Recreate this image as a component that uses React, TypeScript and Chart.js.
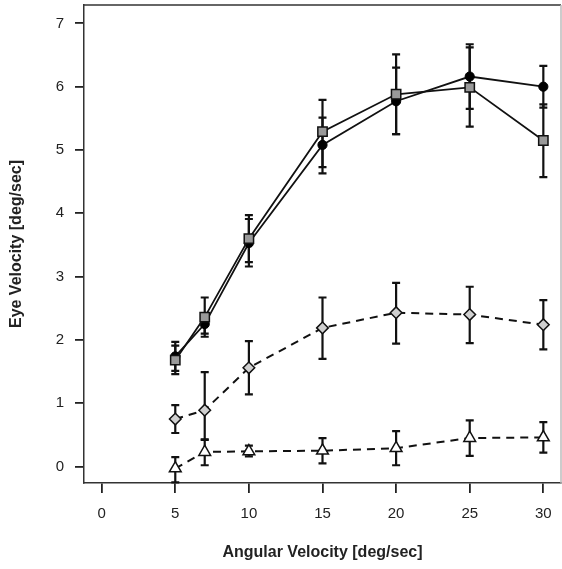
import React, { useEffect, useRef } from "react";
import { Chart, registerables } from "chart.js";

Chart.register(...registerables);

const xValues = [5, 7, 10, 15, 20, 25, 30];

const circleMean = [1.74, 2.25, 3.53, 5.08, 5.77, 6.16, 6.0];
const circleLow = [1.51, 2.1, 3.16, 4.63, 5.25, 5.65, 5.67];
const circleHigh = [1.97, 2.4, 3.91, 5.51, 6.3, 6.67, 6.33];

const squareMean = [1.68, 2.36, 3.6, 5.29, 5.88, 5.99, 5.15];
const squareLow = [1.46, 2.05, 3.23, 4.73, 5.25, 5.37, 4.57];
const squareHigh = [1.91, 2.67, 3.97, 5.79, 6.51, 6.62, 5.72];

const diamondMean = [0.75, 0.89, 1.56, 2.19, 2.43, 2.4, 2.24];
const diamondLow = [0.53, 0.43, 1.14, 1.7, 1.94, 1.95, 1.85];
const diamondHigh = [0.97, 1.49, 1.98, 2.67, 2.9, 2.84, 2.63];

const triMean = [-0.03, 0.23, 0.24, 0.25, 0.29, 0.45, 0.46];
const triLow = [-0.25, 0.02, 0.16, 0.05, 0.02, 0.17, 0.22];
const triHigh = [0.15, 0.42, 0.33, 0.45, 0.56, 0.73, 0.7];

const xTicks = [0, 5, 10, 15, 20, 25, 30];
const yTicks = [0, 1, 2, 3, 4, 5, 6, 7];

const xTitle = "Angular Velocity [deg/sec]";
const yTitle = "Eye Velocity [deg/sec]";

const toPoints = (ys: number[]) => xValues.map((x, i) => ({ x, y: ys[i] }));

const errorBarPlugin = {
  id: "errorBars",
  beforeDatasetsDraw(chart: any) {
    const ctx = chart.ctx;
    const xs = chart.scales.x;
    const ys = chart.scales.y;
    ctx.save();
    ctx.strokeStyle = "#111";
    ctx.lineWidth = 2.2;
    chart.data.datasets.forEach((ds: any) => {
      const lows: number[] = ds.errLow;
      const highs: number[] = ds.errHigh;
      if (!lows) return;
      xValues.forEach((xv, i) => {
        const px = xs.getPixelForValue(xv);
        const pLo = ys.getPixelForValue(lows[i]);
        const pHi = ys.getPixelForValue(highs[i]);
        ctx.beginPath();
        ctx.moveTo(px, pLo);
        ctx.lineTo(px, pHi);
        ctx.moveTo(px - 4, pLo);
        ctx.lineTo(px + 4, pLo);
        ctx.moveTo(px - 4, pHi);
        ctx.lineTo(px + 4, pHi);
        ctx.stroke();
      });
    });
    ctx.restore();
  },
  afterDraw(chart: any) {
    const { left, right, top, bottom } = chart.chartArea;
    const ctx = chart.ctx;
    ctx.save();
    ctx.lineWidth = 1.5;
    ctx.strokeStyle = "#333";
    ctx.beginPath();
    ctx.moveTo(left, top);
    ctx.lineTo(right, top);
    ctx.stroke();
    ctx.strokeStyle = "#bbb";
    ctx.beginPath();
    ctx.moveTo(right, top);
    ctx.lineTo(right, bottom);
    ctx.stroke();
    ctx.restore();
  },
};

export default function App() {
  const ref = useRef<HTMLCanvasElement | null>(null);

  useEffect(() => {
    if (!ref.current) return;
    const tickFont = { family: "'Liberation Sans', Arial, sans-serif", size: 15 };
    const titleFont = { family: "'Liberation Sans', Arial, sans-serif", size: 16, weight: "bold" as const };
    const chart = new Chart(ref.current, {
      type: "line",
      data: {
        datasets: [
          {
            data: toPoints(squareMean),
            errLow: squareLow,
            errHigh: squareHigh,
            borderColor: "#111",
            borderWidth: 1.8,
            pointStyle: "rect",
            pointRadius: 6.6,
            pointBackgroundColor: "#9a9a9a",
            pointBorderColor: "#111",
            pointBorderWidth: 1.5,
            fill: false,
          } as any,
          {
            data: toPoints(circleMean),
            errLow: circleLow,
            errHigh: circleHigh,
            borderColor: "#111",
            borderWidth: 1.8,
            pointStyle: "circle",
            pointRadius: 4.6,
            pointBackgroundColor: "#000",
            pointBorderColor: "#000",
            pointBorderWidth: 1,
            fill: false,
          } as any,
          {
            data: toPoints(diamondMean),
            errLow: diamondLow,
            errHigh: diamondHigh,
            borderColor: "#111",
            borderWidth: 2,
            borderDash: [8, 6],
            pointStyle: "rectRot",
            pointRadius: 5.8,
            pointBackgroundColor: "#d0d0d0",
            pointBorderColor: "#111",
            pointBorderWidth: 1.5,
            fill: false,
          } as any,
          {
            data: toPoints(triMean),
            errLow: triLow,
            errHigh: triHigh,
            borderColor: "#111",
            borderWidth: 2,
            borderDash: [8, 6],
            pointStyle: "triangle",
            pointRadius: 6.8,
            pointBackgroundColor: "#fff",
            pointBorderColor: "#111",
            pointBorderWidth: 1.5,
            fill: false,
          } as any,
        ],
      },
      options: {
        responsive: false,
        animation: false,
        layout: { autoPadding: false, padding: { top: 5, right: 1, left: 0, bottom: 0 } },
        plugins: {
          legend: { display: false },
          tooltip: { enabled: false },
        },
        scales: {
          x: {
            type: "linear",
            min: -1.2,
            max: 31.2,
            afterBuildTicks: (scale: any) => {
              scale.ticks = xTicks.map((v) => ({ value: v }));
            },
            afterFit: (scale: any) => {
              scale.height = 86;
              scale.paddingLeft = 0;
              scale.paddingRight = 0;
            },
            grid: {
              drawOnChartArea: false,
              drawTicks: true,
              tickLength: 10,
              color: "#222",
              lineWidth: 1.8,
            },
            border: { display: true, color: "#333", width: 1.5 },
            ticks: {
              font: tickFont,
              color: "#222",
              padding: 12,
              maxRotation: 0,
              autoSkip: false,
            },
            title: {
              display: true,
              text: xTitle,
              font: titleFont,
              color: "#222",
              padding: { top: 0, bottom: 7 },
            },
          },
          y: {
            type: "linear",
            min: -0.26,
            max: 7.29,
            afterBuildTicks: (scale: any) => {
              scale.ticks = yTicks.map((v) => ({ value: v }));
            },
            afterFit: (scale: any) => {
              scale.width = 84;
              scale.paddingTop = 0;
              scale.paddingBottom = 0;
            },
            grid: {
              drawOnChartArea: false,
              drawTicks: true,
              tickLength: 9,
              color: "#222",
              lineWidth: 1.8,
            },
            border: { display: true, color: "#333", width: 1.5 },
            ticks: {
              font: tickFont,
              color: "#222",
              padding: 11,
              autoSkip: false,
            },
            title: {
              display: true,
              text: yTitle,
              font: titleFont,
              color: "#222",
              padding: { top: 7, bottom: 0 },
            },
          },
        },
      } as any,
      plugins: [errorBarPlugin],
    });
    return () => chart.destroy();
  }, []);

  return (
    <div style={{ position: "fixed", left: 0, top: 0, width: 562, height: 569, background: "#fff" }}>
      <canvas ref={ref} width={562} height={569} style={{ width: 562, height: 569 }} />
    </div>
  );
}
